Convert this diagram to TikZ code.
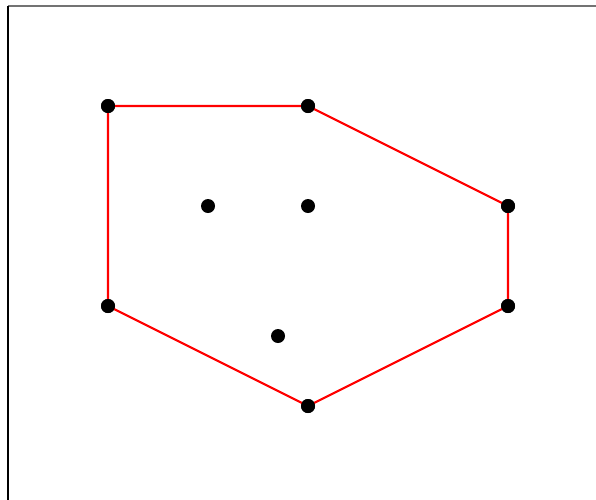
\documentclass[tikz,border=0pt]{standalone}
\tikzset{
  hull pt/.style={
    circle,fill=black,minimum size=0.14cm,inner sep=0pt
  },
  hull edge/.style={red,line width=0.6pt},
  hull frame/.style={line width=0.5pt}
}

\begin{document}
\begin{tikzpicture}[x=1cm,y=1cm]
  \useasboundingbox (-0.08,0.07) rectangle (5.88,5.06);
  \draw[hull frame,black!55] (0,5) -- (6,5);
  \draw[hull frame] (0,-0.2) -- (0,5);
  \node[hull pt] (p1) at (1,4) {};
  \node[hull pt] (p2) at (3,4) {};
  \node[hull pt] (p3) at (5,3) {};
  \node[hull pt] (p4) at (5,2) {};
  \node[hull pt] (p5) at (3,1) {};
  \node[hull pt] (p6) at (1,2) {};
  \node[hull pt] (q1) at (2,3) {};
  \node[hull pt] (q2) at (3,3) {};
  \node[hull pt] (q3) at (2.7,1.7) {};
  \draw[hull edge] (p1.center)--(p2.center)--(p3.center)--(p4.center)
    --(p5.center)--(p6.center)--cycle;
  \foreach \p in {p1,p2,p3,p4,p5,p6}
    \node[hull pt] at (\p) {};
\end{tikzpicture}
\end{document}
